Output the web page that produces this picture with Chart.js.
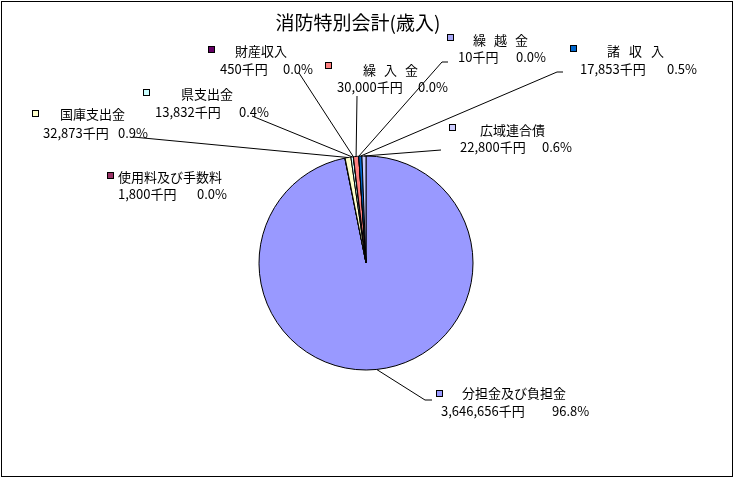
<!DOCTYPE html>
<html><head><meta charset="utf-8">
<script src="https://cdn.jsdelivr.net/npm/chart.js@4"></script>
<style>html,body{margin:0;padding:0;background:#fff;}canvas{display:block;}</style>
</head><body>
<canvas id="c" width="734" height="478"></canvas>
<script>
const title = '消防特別会計(歳入)';
const categories = ['分担金及び負担金','使用料及び手数料','国庫支出金','県支出金','財産収入','繰入金','繰越金','諸収入','広域連合債'];
const values = [3646656, 1800, 32873, 13832, 450, 30000, 10, 17853, 22800];
const percentLabels = ['96.8%','0.0%','0.9%','0.4%','0.0%','0.0%','0.0%','0.5%','0.6%'];
const colors = ['#9999FF','#993366','#FFFFCC','#CCFFFF','#660066','#FF8080','#A6A6F5','#0066CC','#CCCCFF'];

// label layout (pixel positions of the text blocks); ls = extra letter spacing of the name
const labelLayout = [
  {mx:436,my:390,nx:462,ny:393,vx:441,px:552,vy:411,ls:0,lead:[[432,400],[425,400]]},
  {mx:107,my:172,nx:118,ny:177,vx:118,px:197,vy:194,ls:0,lead:null},
  {mx:32,my:110,nx:60,ny:114,vx:43,px:118,vy:133,ls:0,lead:[[133,137]]},
  {mx:143,my:89,nx:181,ny:94,vx:155,px:239,vy:112,ls:0,lead:[[252,116]]},
  {mx:208,my:46,nx:235,ny:51,vx:220,px:283,vy:69,ls:0,lead:[[299,73]]},
  {mx:325,my:62,nx:363,ny:70,vx:337,px:418,vy:87,ls:8,lead:[[357,96]]},
  {mx:447,my:34,nx:473,ny:40,vx:458,px:516,vy:57,ls:8,lead:[[448,62],[442,62]]},
  {mx:570,my:45,nx:607,ny:51,vx:580,px:667,vy:69,ls:9,lead:[[563,72],[557,72]]},
  {mx:449,my:124,nx:480,ny:130,vx:460,px:542,vy:147,ls:0,lead:[[441,150]]}
];

const FONT = '"Noto Sans CJK JP", "Noto Sans", sans-serif';

function spacedText(ctx, text, x, y, ls){
  if (!ls) { ctx.fillText(text, x, y); return; }
  let cx = x;
  for (const ch of text) {
    ctx.fillText(ch, cx, y);
    cx += ctx.measureText(ch).width + ls;
  }
}

const overlay = {
  id:'overlay',
  afterDraw(chart){
    const ctx = chart.ctx;
    const meta = chart.getDatasetMeta(0);
    ctx.save();
    ctx.strokeStyle = '#000';
    ctx.lineWidth = 1;
    meta.data.forEach((arc, i) => {
      const L = labelLayout[i];
      if (!L.lead) return;
      const p = arc.getProps(['x','y','startAngle','endAngle','outerRadius'], true);
      const mid = (p.startAngle + p.endAngle) / 2;
      const ex = p.x + Math.cos(mid) * p.outerRadius;
      const ey = p.y + Math.sin(mid) * p.outerRadius;
      ctx.beginPath();
      ctx.moveTo(L.lead[0][0], L.lead[0][1]);
      for (let k = 1; k < L.lead.length; k++) ctx.lineTo(L.lead[k][0], L.lead[k][1]);
      ctx.lineTo(ex, ey);
      ctx.stroke();
    });
    ctx.textBaseline = 'middle';
    ctx.textAlign = 'left';
    ctx.font = '13px ' + FONT;
    categories.forEach((c, i) => {
      const L = labelLayout[i];
      ctx.fillStyle = colors[i];
      ctx.fillRect(L.mx + 0.5, L.my + 0.5, 6, 6);
      ctx.strokeStyle = '#000';
      ctx.strokeRect(L.mx + 0.5, L.my + 0.5, 6, 6);
      ctx.fillStyle = '#000';
      spacedText(ctx, c, L.nx, L.ny, L.ls);
      ctx.fillText(values[i].toLocaleString('en-US') + '千円', L.vx, L.vy);
      ctx.fillText(percentLabels[i], L.px, L.vy);
    });
    ctx.font = '19px ' + FONT;
    ctx.textAlign = 'center';
    ctx.fillText(title, 358, 23);
    ctx.strokeStyle = '#000';
    ctx.strokeRect(1.5, 1.5, 731, 475);
    ctx.restore();
  }
};

new Chart(document.getElementById('c'), {
  type: 'pie',
  data: {
    labels: categories,
    datasets: [{
      data: values,
      backgroundColor: colors,
      borderColor: '#000',
      borderWidth: 1,
      hoverOffset: 0,
      offset: 0
    }]
  },
  options: {
    responsive: false,
    devicePixelRatio: 1,
    animation: false,
    events: [],
    radius: 107,
    rotation: 0,
    layout: { padding: { left: 259, right: 261, top: 156, bottom: 108 } },
    plugins: { legend: { display: false }, tooltip: { enabled: false }, title: { display: false } }
  },
  plugins: [overlay]
});
</script>
</body></html>
